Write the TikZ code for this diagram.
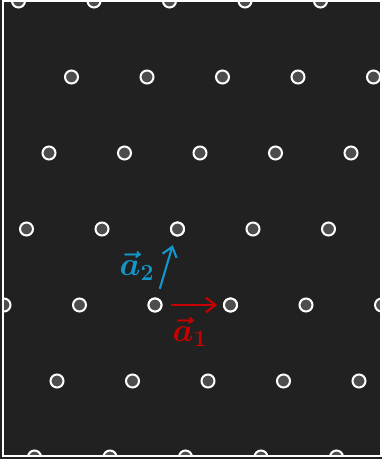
\documentclass[tikz,border=0pt]{standalone}
\usepackage{bm}
\usetikzlibrary{arrows.meta}
\definecolor{bg}{HTML}{212121}
\definecolor{dotfill}{HTML}{4D4D4D}
\definecolor{vecred}{HTML}{C80000}
\definecolor{vecblue}{HTML}{1496C8}
\begin{document}
\begin{tikzpicture}[x=0.75pt,y=-0.75pt,
  site/.style={circle,draw=white,fill=dotfill,line width=1.5pt,minimum size=9.75pt,inner sep=0pt},
  vecarrow/.style={line width=1.6pt,-{Straight Barb[length=7pt,width=11pt,line width=1.6pt]}},
  veclabel/.style={font=\fontsize{24}{24}\selectfont,inner sep=0pt}]
\useasboundingbox (0,0) rectangle (382,459);
\fill[bg] (0,0) rectangle (382,459);
\begin{scope}
\clip (2.5,1.5) rectangle (380.5,455.5);
\foreach \j in {-2,...,4}{
  \foreach \i in {-6,...,6}{
    \pgfmathsetmacro{\px}{155+22.5*\j+75.5*\i}
    \pgfmathsetmacro{\py}{305-76*\j}
    \ifdim \px pt>-15pt \ifdim \px pt<397pt
      \node[site] (p\i\j) at (\px,\py) {};
    \fi\fi
  }
}
\end{scope}
\draw[white,line width=1.5pt] (2.5,1.5) rectangle (380.5,455.5);
\node[site] (o) at (155,305) {};
\node[site] (e1) at (230.5,305) {};
\node[site] (e2) at (177.5,229) {};
\draw[vecarrow,vecred,shorten <=6.5pt,shorten >=4.5pt] (o) -- (e1);
\draw[vecarrow,vecblue,shorten <=7pt,shorten >=7pt] (o) -- (e2);
\node[veclabel,text=vecred] (l1) at (190,332) {$\bm{\vec{a}}_{\mathbf{1}}$};
\node[veclabel,text=vecblue] (l2) at (137,266) {$\bm{\vec{a}}_{\mathbf{2}}$};
\end{tikzpicture}
\end{document}
